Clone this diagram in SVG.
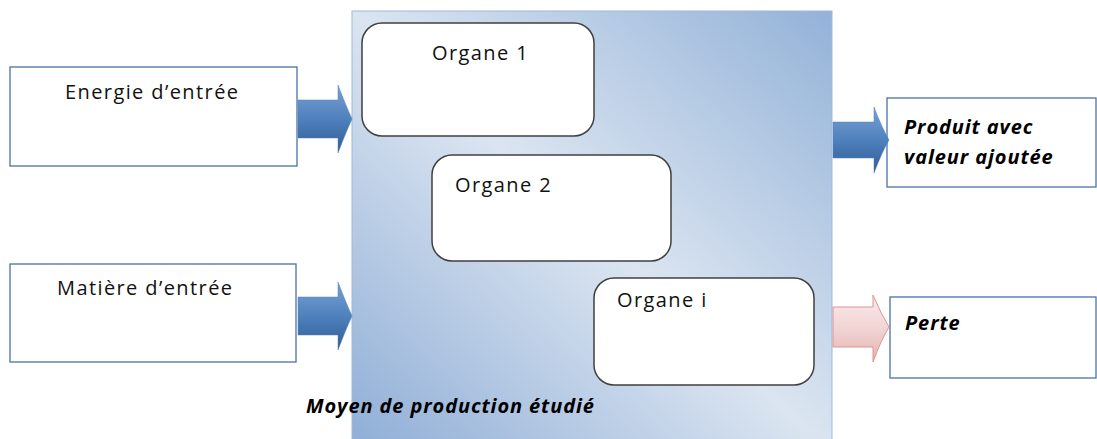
<svg xmlns="http://www.w3.org/2000/svg" width="1097" height="439" viewBox="0 0 1097 439">
<defs>
<linearGradient id="bigGrad" x1="0" y1="1" x2="1" y2="0">
<stop offset="0" stop-color="#8eadd6"/>
<stop offset="0.5" stop-color="#dbe5f1"/>
<stop offset="1" stop-color="#93b2d8"/>
</linearGradient>
<linearGradient id="blueArrow" x1="0" y1="0" x2="0" y2="1">
<stop offset="0" stop-color="#7aa1d2"/>
<stop offset="0.5" stop-color="#4f81bd"/>
<stop offset="1" stop-color="#2f5b92"/>
</linearGradient>
<linearGradient id="pinkArrow" x1="0" y1="0" x2="0" y2="1">
<stop offset="0" stop-color="#fbeaea"/>
<stop offset="0.5" stop-color="#f2d4d4"/>
<stop offset="1" stop-color="#e4b2b1"/>
</linearGradient>
<style>
.box{fill:#ffffff;stroke:#4a72a8;stroke-width:1.3}
.org{fill:#ffffff;stroke:#404040;stroke-width:1.5}
.t{font-family:"Open Sans",Lato,sans-serif;font-size:20px;letter-spacing:1.4px;fill:#111}
.bi{font-family:"Open Sans",Lato,sans-serif;font-size:20px;letter-spacing:0.9px;font-weight:bold;font-style:italic;fill:#000}
.ba{fill:url(#blueArrow);stroke:#4f81bd;stroke-width:0.5}
.pa{fill:url(#pinkArrow);stroke:#d99694;stroke-width:1}
</style>
</defs>
<g id="moyen">
<rect x="352" y="11" width="480" height="440" fill="url(#bigGrad)" stroke="#9fb8da" stroke-width="1"/>
<text class="bi" x="306" y="413">Moyen de production étudié</text>
</g>
<g id="energie">
<rect class="box" x="10" y="67" width="287" height="99"/>
<text class="t" x="65" y="99">Energie d’entrée</text>
</g>
<g id="matiere">
<rect class="box" x="10" y="264" width="286" height="98"/>
<text class="t" x="57" y="295">Matière d’entrée</text>
</g>
<g id="organe1">
<rect class="org" x="362" y="23" width="232" height="113" rx="20"/>
<text class="t" x="432" y="60">Organe 1</text>
</g>
<g id="organe2">
<rect class="org" x="432" y="155" width="239" height="106" rx="20"/>
<text class="t" x="455" y="192">Organe 2</text>
</g>
<g id="organei">
<rect class="org" x="594" y="278" width="220" height="107" rx="20"/>
<text class="t" x="617" y="307">Organe i</text>
</g>
<g id="produit">
<rect class="box" x="887" y="98" width="209" height="89"/>
<text class="bi" x="904" y="134">Produit avec</text>
<text class="bi" x="904" y="164">valeur ajoutée</text>
</g>
<g id="perte">
<rect class="box" x="890" y="297" width="206" height="81"/>
<text class="bi" x="905" y="330">Perte</text>
</g>
<g id="connectors">
<path class="ba" d="M298,100 L338,100 L338,85 Q346,106 352,119 Q346,132 338,153 L338,138 L298,138 Z"/>
<path class="ba" d="M298,297 L338,297 L338,282 Q346,303 352,316 Q346,329 338,350 L338,335 L298,335 Z"/>
<path class="ba" d="M833,122 L874,122 L874,107 Q882,128 889,140 Q882,152 874,173 L874,158 L833,158 Z"/>
<path class="pa" d="M833,307 L873,307 L873,295 Q881,314 889,327 Q881,340 873,362 L873,347 L833,347 Z"/>
</g>
</svg>
